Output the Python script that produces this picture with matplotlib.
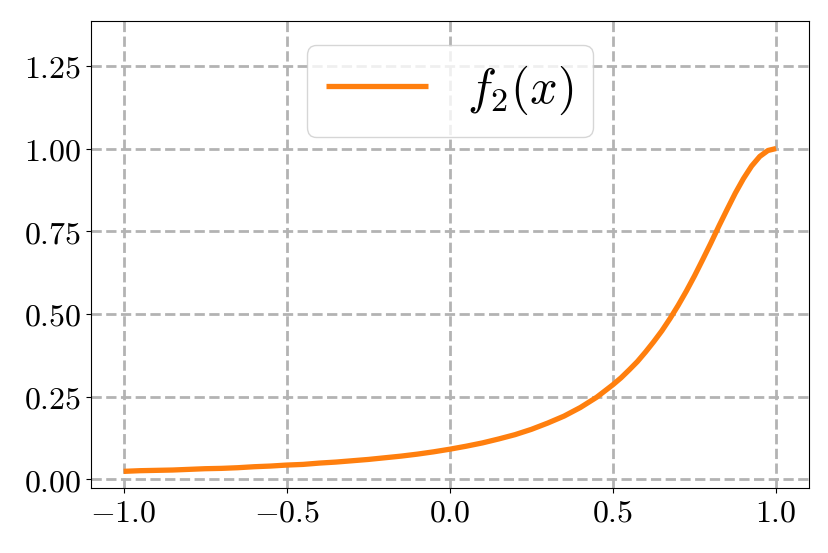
"""Recreate the f_2(x) line chart."""

import matplotlib

matplotlib.use("Agg")
import matplotlib.pyplot as plt
from matplotlib.ticker import FormatStrFormatter

# values (denser where it bends)
x_values = [
    -1.00, -0.95, -0.90, -0.85, -0.80, -0.75, -0.70, -0.65, -0.60, -0.55,
    -0.50, -0.45, -0.40, -0.35, -0.30, -0.25, -0.20, -0.15, -0.10, -0.05,
    0.00, 0.05, 0.10, 0.15, 0.20, 0.25, 0.30, 0.35, 0.40, 0.45,
    0.500, 0.525, 0.550, 0.575, 0.600, 0.625, 0.650, 0.675, 0.700, 0.725,
    0.750, 0.775, 0.800, 0.825, 0.850, 0.875, 0.900, 0.925, 0.950, 0.975,
    1.000,
]
f2_values = [
    0.024, 0.026, 0.027, 0.028, 0.030, 0.032, 0.033, 0.035, 0.038, 0.040,
    0.043, 0.045, 0.049, 0.052, 0.056, 0.060, 0.065, 0.070, 0.076, 0.083,
    0.091, 0.100, 0.110, 0.122, 0.135, 0.151, 0.170, 0.191, 0.217, 0.248,
    0.286, 0.307, 0.331, 0.356, 0.385, 0.416, 0.449, 0.486, 0.526, 0.569,
    0.615, 0.664, 0.714, 0.766, 0.816, 0.865, 0.909, 0.947, 0.976, 0.994,
    1.000,
]
x_ticks = [-1.0, -0.5, 0.0, 0.5, 1.0]
y_ticks = [0.00, 0.25, 0.50, 0.75, 1.00, 1.25]
series_label = r"$f_2(x)$"

plt.rcParams.update(
    {
        "mathtext.fontset": "cm",
        "font.family": "serif",
        "font.serif": ["DejaVu Serif"],
        "axes.formatter.use_mathtext": True,
        "xtick.labelsize": 23,
        "ytick.labelsize": 23,
    }
)

fig = plt.figure(figsize=(8.29, 5.53), dpi=100)
ax = fig.add_axes((0.1098, 0.1181, 0.8657, 0.8448))

ax.plot(x_values, f2_values, color="#ff7f0e", linewidth=3.8,
        solid_capstyle="butt", label=series_label)

ax.set_xlim(-1.1, 1.1)
ax.set_ylim(-0.0254, 1.387)
ax.set_xticks(x_ticks)
ax.set_yticks(y_ticks)
ax.xaxis.set_major_formatter(FormatStrFormatter(r"$%.1f$"))
ax.yaxis.set_major_formatter(FormatStrFormatter(r"$%.2f$"))
ax.grid(True, color="#b3b3b3", linestyle="--", linewidth=2.0)
ax.set_axisbelow(True)

ax.legend(loc="upper center", fontsize=35, handlelength=2.1)

fig.savefig("out.png", dpi=100)
